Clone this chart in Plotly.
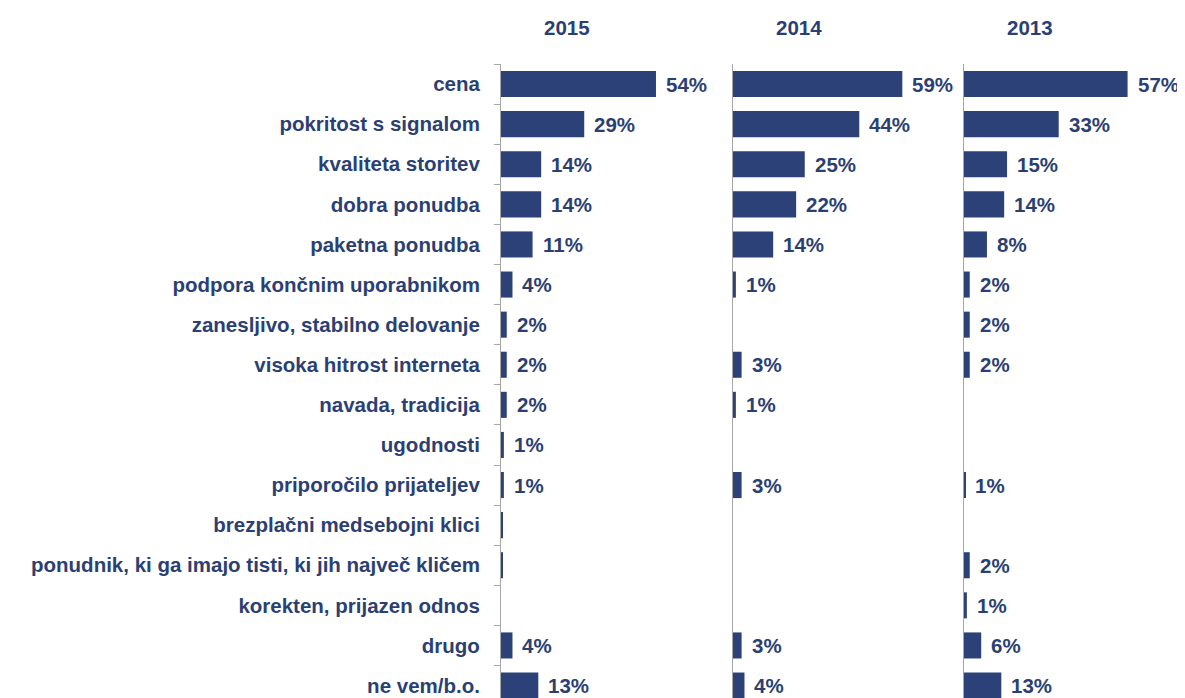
import plotly.graph_objects as go

categories = [
    "cena",
    "pokritost s signalom",
    "kvaliteta storitev",
    "dobra ponudba",
    "paketna ponudba",
    "podpora končnim uporabnikom",
    "zanesljivo, stabilno delovanje",
    "visoka hitrost interneta",
    "navada, tradicija",
    "ugodnosti",
    "priporočilo prijateljev",
    "brezplačni medsebojni klici",
    "ponudnik, ki ga imajo tisti, ki jih največ kličem",
    "korekten, prijazen odnos",
    "drugo",
    "ne vem/b.o.",
]
years = ["2015", "2014", "2013"]

# bar lengths (percent); None = no answer given that year
values_2015 = [54, 29, 14, 14, 11, 4, 2, 2, 2, 1, 1, 0.5, 0.4, None, 4, 13]
values_2014 = [59, 44, 25, 22, 14, 1, None, 3, 1, None, 3, None, None, None, 3, 4]
values_2013 = [57, 33, 15, 14, 8, 2, 2, 2, None, None, 0.5, None, 2, 1, 6, 13]

# printed labels (the tiny 2015 bars carry no label)
labels_2015 = ["54%", "29%", "14%", "14%", "11%", "4%", "2%", "2%", "2%", "1%", "1%", "", "", "", "4%", "13%"]
labels_2014 = ["59%", "44%", "25%", "22%", "14%", "1%", "", "3%", "1%", "", "3%", "", "", "", "3%", "4%"]
labels_2013 = ["57%", "33%", "15%", "14%", "8%", "2%", "2%", "2%", "", "", "1%", "", "2%", "1%", "6%", "13%"]

NAVY = "#2b4177"
TEXT = "#2b3f73"
GRID = "#a6a6a6"
FONT = "Arial, Liberation Sans, sans-serif"
FSIZE = 20.5

# the page body adds an 8px margin, so the figure is drawn 8px smaller/shifted
W, H = 1177, 690
LEFT, TOP = 493, 56
PX_PER_PCT = 2.87
ROW_PX = 40.1
panel_px = [(493, 725), (725, 956), (956, 1177)]

fig = go.Figure()
annotations = []

series = [(values_2015, labels_2015), (values_2014, labels_2014), (values_2013, labels_2013)]
for i, (year, (vals, labs)) in enumerate(zip(years, series)):
    xa = "x" if i == 0 else f"x{i + 1}"
    ya = "y" if i == 0 else f"y{i + 1}"
    fig.add_trace(go.Bar(
        x=vals, y=categories, orientation="h",
        marker=dict(color=NAVY, line=dict(width=0)),
        xaxis=xa, yaxis=ya, hoverinfo="skip", showlegend=False,
    ))
    for cat, v, lab in zip(categories, vals, labs):
        if lab:
            annotations.append(dict(
                x=v, y=cat, xref=xa, yref=ya, text=lab, showarrow=False,
                xanchor="left", yanchor="middle", xshift=8,
                font=dict(family=FONT, size=FSIZE, color=TEXT, weight="bold"),
            ))
    annotations.append(dict(
        x=66 / PX_PER_PCT, y=1, xref=xa, yref="paper", text=year, showarrow=False,
        xanchor="center", yanchor="middle", yshift=37,
        font=dict(family=FONT, size=FSIZE, color=TEXT, weight="bold"),
    ))

plot_w = W - LEFT
layout_axes = {}
for i, (a, b) in enumerate(panel_px):
    suffix = "" if i == 0 else str(i + 1)
    layout_axes[f"xaxis{suffix}"] = dict(
        domain=[(a - LEFT) / plot_w, (b - LEFT) / plot_w],
        range=[0, (b - a) / PX_PER_PCT],
        visible=False, fixedrange=True,
        anchor="y" + suffix,
    )
    yax = dict(
        type="category",
        range=[(H - TOP) / ROW_PX - 0.5, -0.5],
        anchor="x" + suffix,
        showline=True, linecolor=GRID, linewidth=1,
        showgrid=False, zeroline=False, fixedrange=True,
    )
    if i == 0:
        yax.update(
            ticks="outside", tickson="boundaries", ticklen=6, tickcolor=GRID,
            ticklabelstandoff=16,
            tickfont=dict(family=FONT, size=FSIZE, color=TEXT, weight="bold"),
        )
    else:
        yax.update(matches="y", showticklabels=False, ticks="")
    layout_axes[f"yaxis{suffix}"] = yax

fig.update_layout(
    width=W, height=H,
    margin=dict(l=LEFT, r=0, t=TOP, b=0),
    paper_bgcolor="white", plot_bgcolor="white",
    bargap=0.35,
    annotations=annotations,
    **layout_axes,
)

fig.write_html("out.html")
